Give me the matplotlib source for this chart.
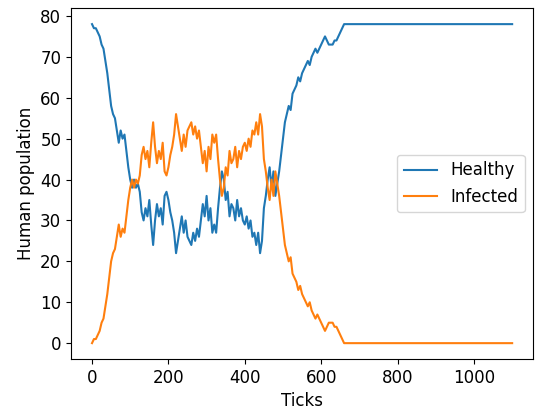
import numpy as np
import matplotlib
matplotlib.use("Agg")
import matplotlib.pyplot as plt

# simulation output, sampled every 5 ticks up to 665, then the final tick
ticks = list(np.arange(0, 670, 5)) + [1100]

healthy = [
    78, 77, 77, 76, 75, 73, 72, 69, 66, 62,
    58, 56, 55, 52, 49, 52, 50, 51, 47, 43,
    40, 38, 40, 38, 39, 37, 32, 30, 33, 31,
    35, 29, 24, 30, 34, 31, 33, 29, 36, 37,
    35, 32, 30, 27, 22, 25, 28, 31, 27, 30,
    26, 25, 24, 27, 25, 28, 26, 30, 34, 31,
    36, 30, 33, 27, 29, 27, 33, 38, 42, 40,
    35, 37, 31, 34, 33, 30, 35, 31, 33, 30,
    29, 31, 28, 30, 26, 27, 24, 27, 22, 25,
    33, 36, 40, 43, 38, 42, 36, 39, 42, 46,
    50, 54, 56, 58, 57, 61, 62, 63, 65, 64,
    66, 67, 68, 69, 68, 70, 71, 72, 71, 72,
    73, 74, 75, 74, 73, 73, 73, 74, 74, 75,
    76, 77, 78, 78,
    78,
]

infected = [
    0, 1, 1, 2, 3, 5, 6, 9, 12, 16,
    20, 22, 23, 26, 29, 26, 28, 27, 31, 35,
    38, 40, 38, 40, 39, 41, 46, 48, 45, 47,
    43, 49, 54, 48, 44, 47, 45, 49, 42, 41,
    43, 46, 48, 51, 56, 53, 50, 47, 51, 48,
    52, 53, 54, 51, 53, 50, 52, 48, 44, 47,
    42, 48, 45, 51, 49, 51, 45, 40, 36, 38,
    43, 41, 47, 44, 45, 48, 43, 47, 45, 48,
    49, 47, 50, 48, 52, 51, 54, 51, 56, 53,
    45, 42, 38, 35, 40, 36, 42, 39, 36, 32,
    28, 24, 22, 20, 21, 17, 16, 15, 13, 14,
    12, 11, 10, 9, 10, 8, 7, 6, 7, 6,
    5, 4, 3, 4, 5, 5, 5, 4, 4, 3,
    2, 1, 0, 0,
    0,
]

plt.rcParams["font.size"] = 12

fig = plt.figure(figsize=(5.38, 4.09), dpi=100)
ax = fig.add_axes([0.132, 0.122, 0.859, 0.858])
ax.plot(ticks, healthy, label="Healthy")
ax.plot(ticks, infected, label="Infected")
ax.set_xlabel("Ticks")
ax.set_ylabel("Human population")
ax.legend(loc="center right")

fig.savefig("out.png", dpi=100)
